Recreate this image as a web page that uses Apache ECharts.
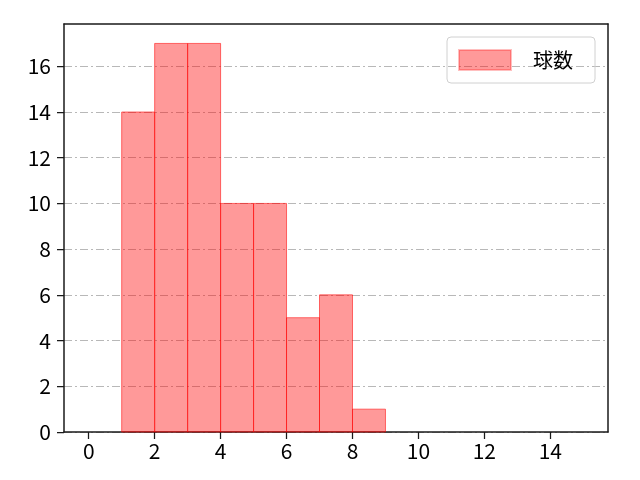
<!DOCTYPE html>
<html><head><meta charset="utf-8">
<script src="https://cdn.jsdelivr.net/npm/echarts@6/dist/echarts.min.js"></script>
<style>html,body{margin:0;padding:0;background:#fff}#c{width:640px;height:480px}</style>
</head><body><div id="c"></div>
<script>
const binStarts = [1, 2, 3, 4, 5, 6, 7, 8];
const binWidth = 1;
const counts = [14, 17, 17, 10, 10, 5, 6, 1];
const seriesName = '球数';
const xTicks = [0, 2, 4, 6, 8, 10, 12, 14];
const yTicks = [0, 2, 4, 6, 8, 10, 12, 14, 16];

const data = binStarts.map((s, i) => [s, s + binWidth, counts[i]]);
const chart = echarts.init(document.getElementById('c'));
const font = 'Noto Sans CJK JP, sans-serif';
const axisCol = '#1a1a1a';
chart.setOption({
  animation: false,
  grid: {left: 64, right: 32, top: 24, bottom: 48},
  xAxis: [{
    type: 'value', min: -0.75, max: 15.75, interval: 2,
    axisLine: {onZero: false, lineStyle: {color: axisCol, width: 1.5}},
    axisTick: {show: true, length: 7, lineStyle: {color: axisCol, width: 1.25},
      customValues: xTicks},
    axisLabel: {color: '#000', fontSize: 21, fontFamily: font, margin: 9,
      customValues: xTicks},
    splitLine: {show: false}
  }, {
    type: 'value', position: 'top', min: -0.75, max: 15.75,
    axisLine: {show: true, onZero: false, lineStyle: {color: axisCol, width: 1.5}},
    axisTick: {show: false}, axisLabel: {show: false}, splitLine: {show: false}
  }],
  yAxis: [{
    type: 'value', min: 0, max: 17.85, interval: 2,
    axisLine: {show: true, onZero: false, lineStyle: {color: axisCol, width: 1.5}},
    axisTick: {show: true, length: 7, lineStyle: {color: axisCol, width: 1.25},
      customValues: yTicks},
    axisLabel: {color: '#000', fontSize: 21, fontFamily: font, margin: 13,
      customValues: yTicks},
    splitLine: {show: true, lineStyle: {color: '#b0b0b0', width: 0.9, type: [8, 3, 2, 3]}}
  }, {
    type: 'value', position: 'right', min: 0, max: 17.85,
    axisLine: {show: true, onZero: false, lineStyle: {color: axisCol, width: 1.5}},
    axisTick: {show: false}, axisLabel: {show: false}, splitLine: {show: false}
  }],
  legend: {
    left: 447, top: 37,
    padding: [12, 22, 12, 11],
    borderColor: '#d0d0d0', borderWidth: 1, borderRadius: 4,
    itemWidth: 52, itemHeight: 20,
    textStyle: {fontSize: 20, color: '#000', fontFamily: font, padding: [0, 0, 0, 17]},
    data: [{name: seriesName, icon: 'rect'}]
  },
  series: [{
    name: seriesName,
    type: 'custom',
    xAxisIndex: 0, yAxisIndex: 0,
    itemStyle: {color: 'rgba(255,0,0,0.4)', borderColor: 'rgba(255,0,0,0.25)', borderWidth: 1},
    renderItem: function (params, api) {
      const p0 = api.coord([api.value(0), api.value(2)]);
      const p1 = api.coord([api.value(1), 0]);
      return {
        type: 'rect',
        shape: {x: p0[0], y: p0[1], width: p1[0] - p0[0], height: p1[1] - p0[1]},
        style: {fill: 'rgba(255,0,0,0.4)', stroke: 'rgba(255,0,0,0.55)', lineWidth: 1}
      };
    },
    encode: {x: [0, 1], y: 2},
    data: data,
    z: 3
  }]
});
</script></body></html>
